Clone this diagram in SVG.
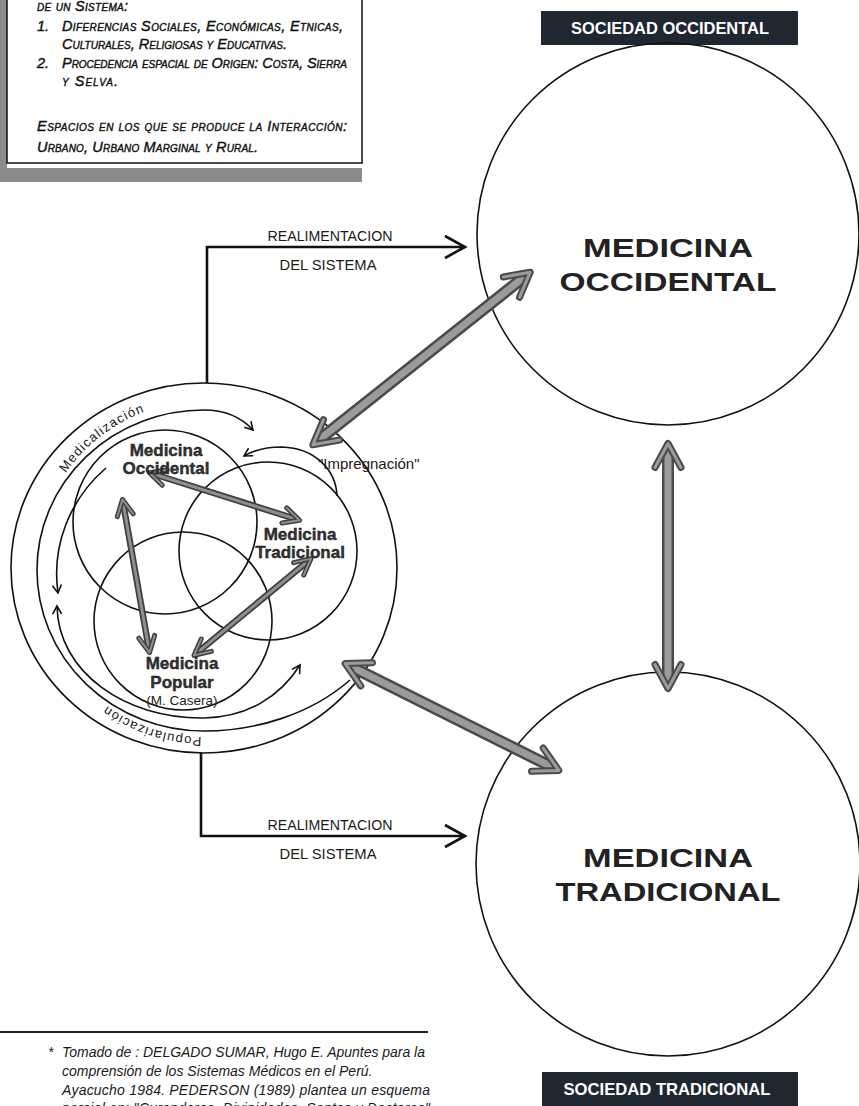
<svg xmlns="http://www.w3.org/2000/svg" width="859" height="1106" viewBox="0 0 859 1106">
<defs>
<style>
.ln{fill:none;stroke:#111;stroke-width:1.6}
.fb{fill:none;stroke:#111;stroke-width:2.6}
.box{font-family:"Liberation Sans",Arial,sans-serif;font-style:italic;font-variant:small-caps;font-size:14.5px;fill:#111;stroke:#111;stroke-width:0.4}
.lbl{font-family:"Liberation Sans",Arial,sans-serif;font-weight:bold;font-size:17px;fill:#fff;text-anchor:middle}
.big{font-family:"Liberation Sans",Arial,sans-serif;font-weight:bold;font-size:25px;fill:#222;text-anchor:middle}
.med{font-family:"Liberation Sans",Arial,sans-serif;font-weight:bold;font-size:17px;fill:#333;stroke:#111;stroke-width:0.4;text-anchor:middle}
.sm{font-family:"Liberation Sans",Arial,sans-serif;font-size:13.5px;fill:#222;text-anchor:middle}
.imp{font-family:"Liberation Sans",Arial,sans-serif;font-size:15px;fill:#1a1a1a}
.rl{font-family:"Liberation Sans",Arial,sans-serif;font-size:15px;fill:#1a1a1a;text-anchor:middle}
.arc{font-family:"Liberation Sans",Arial,sans-serif;font-size:13px;letter-spacing:1.2px;fill:#1a1a1a}
.ft{font-family:"Liberation Sans",Arial,sans-serif;font-style:italic;font-size:14px;fill:#1a1a1a}
.g1{stroke:#4a4a4a;stroke-width:12;fill:none}
.g2{stroke:#9b9b9b;stroke-width:7;fill:none;marker-start:url(#bh);marker-end:url(#bh)}
.s1{stroke:#3f3f3f;stroke-width:6.5;fill:none}
.s2{stroke:#8f8f8f;stroke-width:3;fill:none;marker-start:url(#sh);marker-end:url(#sh)}
</style>
<marker id="bh" markerUnits="userSpaceOnUse" markerWidth="34" markerHeight="34" viewBox="0 0 34 34" refX="25.5" refY="17" orient="auto-start-reverse" overflow="visible">
<path d="M6,4 L30,17 L6,30" fill="none" stroke="#4a4a4a" stroke-width="7" stroke-linejoin="round" stroke-linecap="round"/>
<path d="M6,4 L30,17 L6,30" fill="none" stroke="#9b9b9b" stroke-width="3" stroke-linejoin="round" stroke-linecap="round"/>
</marker>
<marker id="sh" markerUnits="userSpaceOnUse" markerWidth="24" markerHeight="24" viewBox="0 0 24 24" refX="17.5" refY="12" orient="auto-start-reverse" overflow="visible">
<path d="M4,4 L20,12 L4,20" fill="none" stroke="#3f3f3f" stroke-width="5" stroke-linejoin="round" stroke-linecap="round"/>
<path d="M4,4 L20,12 L4,20" fill="none" stroke="#8f8f8f" stroke-width="2" stroke-linejoin="round" stroke-linecap="round"/>
</marker>
<marker id="th" markerUnits="userSpaceOnUse" markerWidth="12" markerHeight="12" viewBox="0 0 12 12" refX="10" refY="6" orient="auto-start-reverse" overflow="visible">
<path d="M2,1.5 L10,6 L2,10.5" fill="none" stroke="#111" stroke-width="1.6"/>
</marker>
<marker id="fh" markerUnits="userSpaceOnUse" markerWidth="26" markerHeight="26" viewBox="0 0 26 26" refX="23" refY="13" orient="auto" overflow="visible">
<path d="M3,2 L23,13 L3,24" fill="none" stroke="#111" stroke-width="2.6"/>
</marker>
<path id="pMed" d="M63.9,475.5 A169,169 0 0 1 198.1,401.1"/>
<path id="pPop" d="M215.6,736.6 A167,167 0 0 1 76.1,677.3"/>
</defs>
<rect width="859" height="1106" fill="#fff"/>

<g id="info-box">
<rect x="0" y="0" width="7" height="182" fill="#8c8c8c"/>
<rect x="0" y="168" width="362" height="14" fill="#8c8c8c"/>
<rect x="7" y="-2" width="355" height="165" fill="#fff" stroke="#111" stroke-width="1.5"/>
<text class="box" x="37" y="11" textLength="91">de un Sistema:</text>
<text class="box" x="37" y="31">1.</text>
<text class="box" x="62" y="31" textLength="281">Diferencias Sociales, Económicas, Etnicas,</text>
<text class="box" x="62" y="49" textLength="225">Culturales, Religiosas y Educativas.</text>
<text class="box" x="37" y="68">2.</text>
<text class="box" x="62" y="68" textLength="285">Procedencia espacial de Origen: Costa, Sierra</text>
<text class="box" x="62" y="86" textLength="56">y Selva.</text>
<text class="box" x="37" y="131" textLength="310">Espacios en los que se produce la Interacción:</text>
<text class="box" x="37" y="152" textLength="221">Urbano, Urbano Marginal y Rural.</text>
</g>

<g id="sociedad-occidental">
<rect x="541" y="11" width="257" height="34" fill="#1f2731"/>
<text class="lbl" x="670" y="34" textLength="198" lengthAdjust="spacingAndGlyphs">SOCIEDAD OCCIDENTAL</text>
</g>
<g id="sociedad-tradicional">
<rect x="542" y="1072" width="256" height="34" fill="#1f2731"/>
<text class="lbl" x="667" y="1095" textLength="207" lengthAdjust="spacingAndGlyphs">SOCIEDAD TRADICIONAL</text>
</g>

<g id="medicina-occidental">
<circle class="ln" cx="668" cy="234" r="191"/>
<text class="big" x="668" y="257" textLength="170" lengthAdjust="spacingAndGlyphs">MEDICINA</text>
<text class="big" x="668" y="291" textLength="217" lengthAdjust="spacingAndGlyphs">OCCIDENTAL</text>
</g>
<g id="medicina-tradicional">
<circle class="ln" cx="668" cy="864" r="192"/>
<text class="big" x="668" y="867" textLength="170" lengthAdjust="spacingAndGlyphs">MEDICINA</text>
<text class="big" x="668" y="901" textLength="225" lengthAdjust="spacingAndGlyphs">TRADICIONAL</text>
</g>

<g id="sistema-medico">
<ellipse class="ln" cx="204" cy="568" rx="193" ry="185"/>
<path class="ln" d="M350,680 C310,715 255,731 204,731 A167,161 0 0 1 37,570 A167,160 0 0 1 204,410 C224,410 241,417 253,430" marker-end="url(#th)"/>
<path class="ln" d="M106,468 A148,142 0 0 0 58,593" marker-end="url(#th)"/>
<path class="ln" d="M57,606 C58,672 125,719 204,718 C247,717 280,697 300,665" marker-start="url(#th)" marker-end="url(#th)"/>
<path class="ln" d="M337,496 C336,470 315,448 282,447 C266,447 254,450 244,456" marker-end="url(#th)"/>
<text class="arc"><textPath href="#pMed" startOffset="3">Medicalización</textPath></text>
<text class="arc"><textPath href="#pPop" startOffset="14">Popularización</textPath></text>
</g>

<g id="sub-occidental">
<circle class="ln" cx="165" cy="522" r="92"/>
</g>
<g id="sub-tradicional">
<circle class="ln" cx="268" cy="551" r="89"/>
</g>
<g id="sub-popular">
<circle class="ln" cx="183" cy="621" r="89"/>
</g>

<g id="connectors">
<path class="fb" d="M207,383 V247 H465" marker-end="url(#fh)"/>
<path class="fb" d="M201,753 V836 H465" marker-end="url(#fh)"/>
<line class="g1" x1="316.3" y1="442" x2="526.7" y2="275"/>
<line class="g2" x1="316.3" y1="442" x2="526.7" y2="275"/>
<line class="g1" x1="349.2" y1="665.6" x2="554.8" y2="768.4"/>
<line class="g2" x1="349.2" y1="665.6" x2="554.8" y2="768.4"/>
<line class="g1" x1="668" y1="448" x2="668" y2="684"/>
<line class="g2" x1="668" y1="448" x2="668" y2="684"/>
<line class="s1" x1="151.8" y1="473.5" x2="297.2" y2="519.5"/>
<line class="s2" x1="151.8" y1="473.5" x2="297.2" y2="519.5"/>
<line class="s1" x1="122.9" y1="501.9" x2="149.1" y2="650.1"/>
<line class="s2" x1="122.9" y1="501.9" x2="149.1" y2="650.1"/>
<line class="s1" x1="195.9" y1="653.8" x2="309.1" y2="560.2"/>
<line class="s2" x1="195.9" y1="653.8" x2="309.1" y2="560.2"/>
</g>

<g id="labels">
<text class="rl" x="330" y="241" textLength="125" lengthAdjust="spacingAndGlyphs">REALIMENTACION</text>
<text class="rl" x="328" y="270" textLength="97" lengthAdjust="spacingAndGlyphs">DEL SISTEMA</text>
<text class="rl" x="330" y="830" textLength="125" lengthAdjust="spacingAndGlyphs">REALIMENTACION</text>
<text class="rl" x="328" y="859" textLength="97" lengthAdjust="spacingAndGlyphs">DEL SISTEMA</text>
<text class="med" x="166" y="456">Medicina</text>
<text class="med" x="166" y="474">Occidental</text>
<text class="med" x="300" y="540">Medicina</text>
<text class="med" x="300" y="558">Tradicional</text>
<text class="med" x="182" y="669">Medicina</text>
<text class="med" x="182" y="688">Popular</text>
<text class="sm" x="182" y="705">(M. Casera)</text>
<text class="imp" x="318" y="469">"Impregnación"</text>
</g>

<g id="footnote">
<line x1="0" y1="1032" x2="428" y2="1032" stroke="#222" stroke-width="2"/>
<text class="ft" x="48" y="1057">*</text>
<text class="ft" x="62" y="1057" textLength="363">Tomado de : DELGADO SUMAR, Hugo E. Apuntes para la</text>
<text class="ft" x="62" y="1076">comprensión de los Sistemas Médicos en el Perú.</text>
<text class="ft" x="62" y="1095" textLength="368">Ayacucho 1984. PEDERSON (1989) plantea un esquema</text>
<text class="ft" x="62" y="1113" textLength="368">parcial en: "Curanderos, Divinidades, Santos y Doctores"</text>
</g>
</svg>
